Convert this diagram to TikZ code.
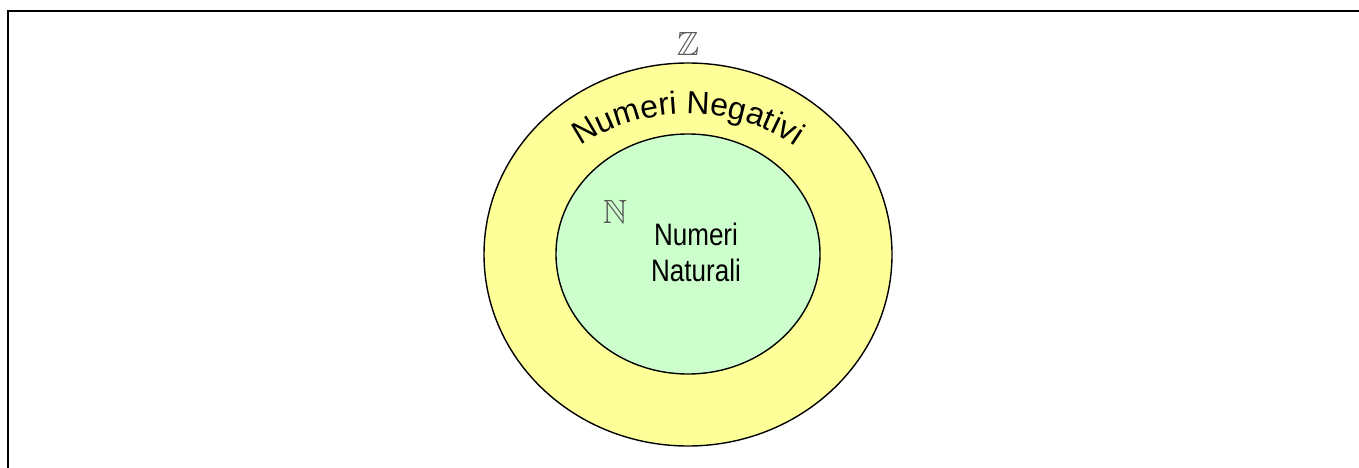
\documentclass[tikz,border=0pt]{standalone}
\usepackage{amssymb}
\usepackage{fontspec}
\setmainfont{Liberation Sans}
\newfontfamily\narrowfont[FakeStretch=0.84]{Liberation Sans}
\usetikzlibrary{decorations.text}
\definecolor{setyellow}{HTML}{FFFF99}
\definecolor{setgreen}{HTML}{CCFFCC}

\begin{document}
\begin{tikzpicture}[x=1pt,y=-1pt,
  setline/.style={draw=black,line width=1.4pt},
  setname/.style={text=black!65,inner sep=0pt,font=\fontsize{24.88}{25}\selectfont}]
  \useasboundingbox (0,0) rectangle (1359,468);
  % cornice
  \draw[line width=2.4pt] (8,468) -- (8,11) -- (1359,11);
  % insiemi
  \draw[setline,fill=setyellow] (688,254.5) ellipse [x radius=204pt,y radius=191.5pt];
  \draw[setline,fill=setgreen] (688,254) ellipse [x radius=132pt,y radius=120pt];
  % etichette
  \node[setname] (zeta) at (688,44) {\scalebox{1.35}{$\mathbb{Z}$}};
  \node[setname] (enne) at (615,212) {\scalebox{1.35}{$\mathbb{N}$}};
  \node[align=center,inner sep=0pt,font=\narrowfont\fontsize{31}{36}\selectfont]
    (naturali) at (696,252) {Numeri\\Naturali};
  \coordinate (negstart) at (688,254);
  \path[decorate,decoration={text along path,text align=center,
      text={|\fontsize{32}{32}\selectfont|Numeri Negativi}}]
    (negstart) ++(140:168pt and 140pt)
    arc[start angle=140,end angle=40,x radius=168pt,y radius=140pt];
\end{tikzpicture}
\end{document}
